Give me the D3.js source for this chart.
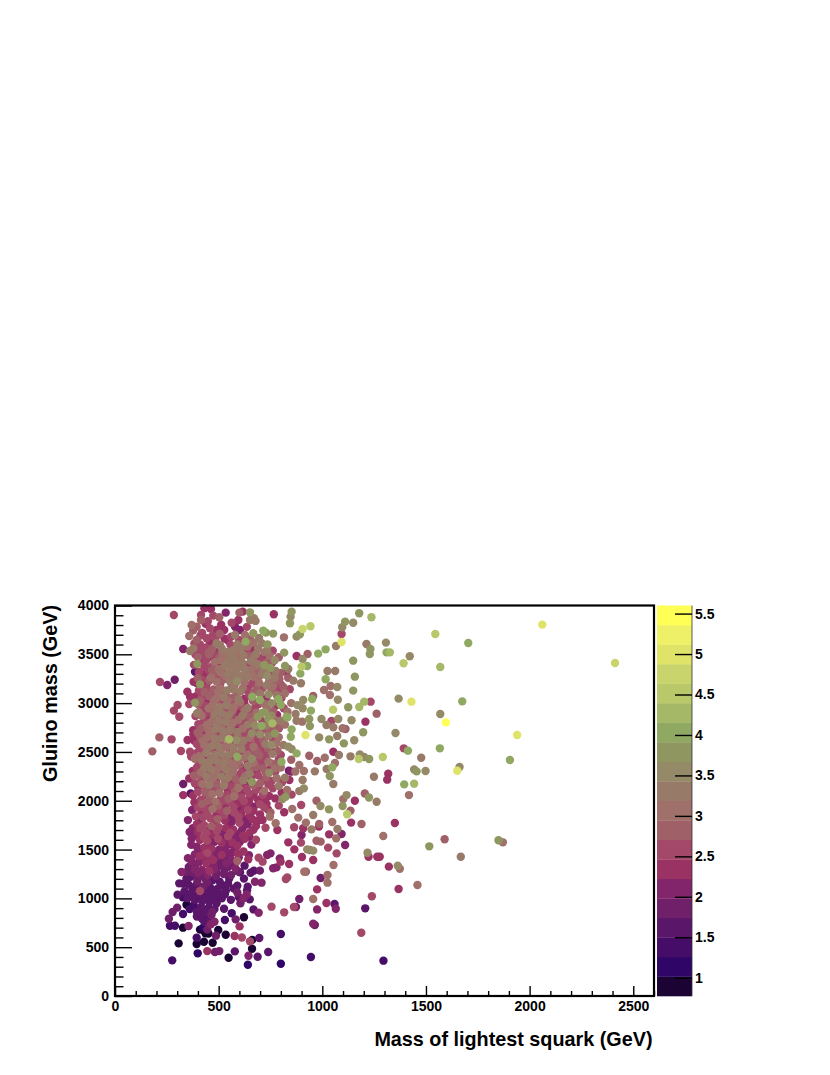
<!DOCTYPE html>
<html>
<head>
<meta charset="utf-8">
<script src="https://cdn.jsdelivr.net/npm/d3@7"></script>
<style>
  body { margin: 0; background: #fff; }
  text { font-family: "Liberation Sans", sans-serif; font-weight: bold; fill: #000; }
</style>
</head>
<body>
<svg></svg>
<script>
// [squark mass, gluino mass, colour value]
var farRight = [[2061,3804,4.9],[2412,3411,4.8],[1545,3708,4.5],[1704,3616,4.0],[1307,3620,3.6],[1310,3520,4.0],[1326,3520,4.2],[1422,3480,3.6],[1392,3408,4.4],[1569,3370,4.2],[1368,3046,3.5],[1430,3015,4.9],[1675,3018,4.0],[1569,2888,3.6],[1596,2803,5.5],[1353,2694,3.6],[1940,2673,4.9],[1393,2537,2.5],[1413,2513,4.0],[1567,2537,4.0],[1292,2448,4.5],[1477,2441,3.2],[1905,2417,4.1],[1662,2345,3.5],[1651,2308,4.9],[1443,2321,3.5],[1455,2301,3.9],[1498,2304,3.6],[1318,2277,2.3],[1313,2216,2.4],[1395,2168,4.1],[1443,2175,4.3],[1418,2058,3.1],[1350,1772,2.4],[1294,1639,3.0],[1590,1605,2.9],[1516,1533,3.8],[1850,1595,3.8],[1871,1574,3.1],[1668,1427,3.4],[1364,1335,3.6],[1374,1304,3.1],[1321,1325,2.3],[1459,1137,3.0],[1368,1096,2.4],[1295,362,1.4],[1277,1427,2.4]];

var lowRegion = [[276,365,1.4],[307,539,0.9],[265,720,1.4],[289,720,1.4],[260,792,1.9],[278,860,1.9],[300,905,1.9],[328,840,1.3],[328,700,0.9],[355,717,2.2],[302,1038,1.5],[310,1154,1.6],[321,1270,2.1],[399,437,1.2],[394,532,0.9],[394,597,1.4],[429,556,0.9],[471,546,0.9],[498,676,0.9],[534,628,0.9],[445,460,2.3],[482,450,1.9],[503,460,1.8],[548,392,0.9],[578,457,1.6],[577,614,2.4],[612,600,2.5],[651,560,2.6],[662,575,1.0],[661,484,0.9],[696,594,1.6],[644,413,2.0],[641,320,1.2],[688,402,1.6],[739,450,1.6],[800,635,1.4],[800,331,1.2],[945,399,1.4],[487,618,1.9],[622,806,0.9],[601,713,2.3],[530,778,1.3],[563,847,1.3],[526,894,1.5],[582,785,1.9],[668,887,1.6],[693,853,2.2],[755,915,2.5],[816,857,2.7],[863,911,2.6],[873,911,1.8],[889,993,1.8],[956,993,3.0],[975,887,2.0],[956,741,2.0],[964,727,1.9],[1020,952,2.4],[1059,942,1.7],[1065,894,2.0],[1207,898,1.7],[1239,1021,2.5],[1188,648,2.5]];

var midLower = [[992,1209,1.8],[1025,1239,3.1],[1025,1161,3.0],[975,1092,2.4],[1054,1342,3.0],[913,1273,3.0],[921,1273,2.8],[824,1198,2.6],[831,1215,2.6],[707,1161,2.0],[675,1171,2.2],[699,1284,1.8],[670,1284,1.7],[654,1263,1.7],[625,1335,1.7],[603,1267,1.7],[643,1400,2.3],[590,1383,2.9],[712,1376,2.5],[693,1417,2.5],[734,1444,2.2],[750,1461,2.2],[795,1410,2.1],[840,1352,2.4],[763,1308,2.2],[779,1318,2.2],[799,1376,2.4],[836,1574,2.4],[865,1502,2.3],[897,1571,2.5],[902,1424,2.4],[927,1502,3.6],[956,1489,3.6],[940,1496,3.3],[956,1393,2.4],[1028,1520,2.7],[1069,1461,2.6],[1067,1615,3.0],[1073,1711,3.4],[1110,1547,2.2],[1093,1660,2.2],[1139,1776,2.3],[1189,1762,2.9],[1218,1468,3.6],[1223,1427,2.4],[1265,1427,2.4],[1033,1656,2.4],[992,1581,2.8],[972,1591,2.9],[921,1776,3.1],[948,1707,3.4],[985,1762,2.8],[956,1854,3.4],[991,1946,3.5],[1032,1912,3.7],[1098,1946,3.8],[1120,1861,4.4],[1136,1899,2.9],[1048,1782,3.1],[984,1735,2.4],[900,1649,2.2],[908,1718,2.4],[864,1728,2.5],[884,1827,3.0],[855,1916,3.0],[816,1882,2.3],[783,1701,2.4],[726,1724,2.7],[712,1803,2.4],[747,1837,3.0],[775,1769,3.0],[898,1957,2.6]];

var midUpper = [[852,3937,3.9],[766,3910,2.4],[844,3818,3.9],[905,3760,4.8],[943,3787,4.6],[1178,3920,3.9],[1237,3879,4.3],[1110,3835,3.8],[1096,3777,3.6],[1149,3824,3.6],[1093,3708,2.6],[1093,3626,5.0],[1066,3585,3.4],[1213,3606,3.3],[1232,3555,3.7],[1229,3503,3.7],[1016,3551,4.0],[980,3507,4.0],[929,3503,2.8],[905,3452,3.5],[927,3380,4.1],[900,3374,4.6],[1149,3435,3.9],[715,3742,4.0],[728,3722,3.8],[763,3712,3.9],[815,3674,3.0],[876,3681,3.5],[892,3705,3.9],[847,3886,3.6],[736,3602,3.9],[876,3483,2.4],[816,3517,3.7],[820,3380,3.9],[836,3350,3.3],[894,3302,4.0],[1025,3329,3.2],[1062,3329,3.2],[1016,3244,4.1],[1157,3271,3.9],[897,3203,3.3],[1040,3175,3.0],[1072,3165,3.6],[1149,3128,3.7],[1008,3134,3.0],[1037,3083,3.0],[956,3073,2.8],[908,3032,3.6],[951,3042,4.1],[1075,3035,3.6],[1233,3015,2.5],[1262,2892,2.9],[1202,3015,4.2],[1178,2960,4.2],[1125,2957,3.8],[1052,2933,4.4],[945,2923,4.0],[905,2947,3.6],[871,2889,3.4],[832,2912,3.0],[832,2854,4.0],[937,2837,3.9],[876,2820,3.3],[903,2810,3.0],[996,2837,3.6],[1044,2817,2.6],[1077,2837,3.6],[1141,2824,3.6],[1208,2810,2.4],[1020,2776,3.2],[1053,2752,3.2],[1098,2742,3.0],[1112,2735,2.8],[1197,2701,3.8],[940,2766,3.9],[852,2731,4.1],[771,2690,3.9],[919,2673,4.9],[848,2656,4.1],[1072,2663,3.2],[985,2649,3.6],[1033,2629,3.9],[1104,2588,3.7],[1154,2619,3.5],[1249,2246,3.2],[1053,2502,2.4],[1080,2468,3.2],[1136,2455,3.2],[1176,2427,4.4],[1181,2475,3.5],[1202,2448,3.5],[1226,2427,3.8],[937,2461,2.8],[975,2407,2.9],[1012,2441,3.0],[1061,2386,3.1],[1048,2342,4.0],[1021,2325,3.4],[1036,2253,3.8],[964,2301,3.4],[911,2304,3.1],[889,2366,3.0],[905,2212,3.4],[911,2127,3.6],[889,2099,3.3],[1053,2171,3.2],[972,2000,2.8],[1117,2058,3.6],[1101,2017,3.0],[1157,2000,2.3],[1205,2075,2.8],[1225,2034,3.7],[1262,1990,3.3],[823,2041,3.8],[808,2017,3.6],[773,2024,2.4],[723,2004,2.4],[803,2400,4.1],[839,2308,1.9],[849,2298,2.1],[841,2212,2.4],[820,2236,3.2],[744,2287,3.6],[772,2332,3.0],[755,2383,2.9],[755,2571,3.6],[812,2571,3.2],[791,2742,2.6],[836,2554,3.6],[852,2530,3.5],[876,2485,4.0],[789,3039,4.1],[800,2981,4.1],[662,3066,4.0],[699,3032,4.0],[759,2793,4.2],[707,2766,4.1],[723,2906,3.8],[755,2871,3.6],[828,2861,4.0]];

var farLeft = [[284,3903,2.7],[180,2506,2.9],[214,2649,2.9],[273,2629,2.7],[217,3216,2.6],[252,3186,2.1],[288,3240,1.9],[302,2981,2.7],[284,2923,2.5],[310,2861,2.7],[318,2509,2.5],[362,2502,2.6],[350,2622,2.3],[329,2171,1.9],[329,2058,2.3],[365,2075,1.6],[386,3322,1.7],[329,3555,2.1],[362,3534,3.2],[378,3561,3.4],[358,3688,3.0],[370,3800,3.0],[349,3117,2.4],[362,3066,2.3],[386,3005,3.7],[358,2991,2.5],[395,2895,3.2],[410,3192,3.9],[397,3203,1.8],[397,3401,3.9],[378,2680,2.4]];

var coreTop = [[431,3971,2.4],[463,3965,2.4],[534,3927,2.0],[600,3927,2.8],[616,3937,2.4],[651,3930,3.7],[415,3903,2.7],[474,3896,2.7],[503,3879,2.8],[415,3852,2.9],[651,3852,3.4],[678,3842,3.4],[670,3869,3.4],[595,3852,2.3],[394,3783,2.8],[458,3766,2.5],[490,3749,2.4],[527,3749,2.3],[579,3783,2.0],[603,3749,2.2],[579,3698,3.2],[627,3698,3.0],[667,3715,3.7],[442,3664,2.7],[394,3647,2.9],[490,3613,3.2],[506,3596,3.3],[630,3630,4.0],[670,3544,2.4],[707,3613,3.4],[571,3544,3.2],[547,3527,3.2],[420,3720,2.6],[470,3690,2.5],[505,3710,2.9],[545,3640,2.4],[560,3680,2.6],[410,3600,2.7],[440,3570,2.5],[470,3560,2.8],[515,3560,3.3],[590,3600,3.2],[610,3570,3.4],[640,3580,3.1],[690,3560,3.2],[425,3510,2.7],[455,3500,2.9],[490,3490,2.6],[530,3480,3.1],[565,3470,3.2],[595,3500,3.1],[620,3490,3.3],[650,3480,2.8],[680,3500,3.3],[720,3520,3.1],[745,3490,3.0],[400,3470,2.8],[440,3440,2.6],[480,3420,3.1],[510,3440,3.0],[545,3430,3.3],[580,3430,3.4],[615,3410,3.2],[655,3430,3.3],[700,3440,2.7],[770,3440,3.5],[790,3470,2.9],[720,3390,3.7],[750,3360,3.9],[430,3380,2.6],[465,3370,2.7],[500,3350,3.0],[530,3380,3.2],[560,3360,3.2],[590,3350,3.3],[625,3350,3.4],[655,3340,3.1],[690,3320,2.8],[715,3350,3.2],[775,3330,3.4],[800,3310,2.9],[405,3320,2.7],[440,3310,2.4],[475,3300,2.9],[510,3310,3.1],[545,3300,3.3],[575,3290,3.2],[610,3280,3.4],[640,3270,3.2],[670,3270,3.0],[735,3280,3.6],[770,3260,3.3],[835,3260,2.9],[860,3230,3.3],[420,3240,2.5],[455,3230,2.8],[490,3220,3.0],[520,3240,2.9],[555,3220,3.3],[590,3225,3.5],[625,3210,3.1],[660,3200,2.6],[695,3210,3.0],[730,3180,3.4],[760,3170,3.0],[800,3190,2.5]];

var coreMid = [[405,3130,2.6],[440,3150,2.5],[475,3140,2.9],[510,3150,3.1],[540,3130,3.3],[570,3140,3.2],[605,3120,3.4],[640,3125,2.5],[670,3110,2.9],[700,3100,3.2],[740,3090,3.6],[780,3080,3.2],[820,3100,3.0],[420,3060,2.7],[455,3070,2.9],[490,3050,3.1],[525,3060,3.3],[560,3050,2.9],[595,3040,3.4],[625,3045,2.3],[755,3000,3.6],[850,3000,3.1],[880,2980,3.5],[400,2990,2.8],[435,2970,2.6],[470,2980,3.0],[505,2960,3.2],[540,2975,3.4],[575,2960,3.0],[610,2960,2.5],[640,2950,3.3],[675,2950,2.6],[710,2900,3.8],[405,2910,3.0],[445,2900,2.7],[480,2890,3.2],[515,2895,3.4],[550,2880,3.2],[585,2890,2.4],[615,2870,3.3],[650,2860,2.8],[690,2860,3.9],[740,2840,3.9],[770,2830,3.1],[800,2820,3.3],[430,2820,2.7],[465,2810,3.0],[500,2820,3.2],[535,2805,3.3],[570,2800,3.0],[605,2790,2.6],[640,2780,3.3],[675,2770,3.6],[730,2770,3.3],[820,2780,3.0],[415,2740,2.9],[450,2730,3.0],[485,2735,3.2],[520,2720,3.3],[555,2720,3.4],[590,2705,3.2],[625,2695,2.7],[660,2690,3.5],[700,2680,3.6],[740,2660,3.3],[790,2650,3.0],[410,2660,2.9],[445,2650,3.1],[480,2640,3.3],[515,2640,3.4],[550,2630,4.2],[585,2620,3.6],[620,2615,3.4],[650,2600,2.6],[690,2590,2.5],[725,2580,3.4],[780,2590,3.0],[395,2580,2.6],[430,2570,3.1],[465,2560,3.3],[500,2555,3.3],[535,2550,3.1],[570,2540,3.4],[610,2530,3.4],[640,2520,2.7],[680,2510,2.9],[720,2495,2.7],[760,2480,3.3],[800,2470,2.7],[400,2500,2.6],[440,2490,3.2],[480,2470,3.3],[515,2480,3.3],[550,2470,3.2],[590,2450,4.0],[625,2445,3.1],[660,2430,3.6],[700,2420,2.7],[740,2400,3.1],[850,2420,2.9],[385,2430,3.0],[420,2410,3.2],[455,2400,3.4],[490,2410,3.3],[525,2395,3.3],[560,2385,3.0],[600,2370,2.8],[640,2360,3.3],[680,2345,2.9],[715,2330,2.8],[800,2340,3.0],[870,2300,3.0],[395,2340,2.7],[430,2330,3.2],[465,2320,3.3],[500,2335,3.1],[535,2320,3.3],[570,2300,3.1],[610,2290,2.7],[650,2275,3.3],[690,2260,2.6],[730,2240,2.9],[780,2230,3.0],[400,2260,2.9],[440,2250,3.3],[475,2240,3.0],[510,2250,3.2],[545,2235,3.4],[580,2225,2.9],[620,2210,3.4],[660,2195,3.7],[700,2180,2.8],[740,2165,2.6],[790,2150,3.2],[385,2180,2.6],[420,2170,3.0],[455,2160,3.2],[490,2170,2.9],[525,2155,3.3],[560,2145,2.6],[595,2130,3.0],[635,2120,2.7],[680,2110,2.5],[720,2100,3.0],[830,2110,3.0]];

var coreLow = [[400,2090,2.7],[435,2085,2.9],[470,2070,3.0],[505,2075,3.0],[540,2060,2.6],[575,2045,3.1],[610,2035,2.6],[650,2020,2.4],[690,2010,2.3],[415,2010,2.6],[450,2000,2.8],[485,1990,3.0],[520,2000,2.5],[555,1985,2.7],[590,1970,2.3],[625,1950,2.4],[670,1940,2.2],[720,1930,2.5],[790,1950,2.5],[400,1930,2.5],[435,1920,2.7],[470,1915,3.0],[505,1905,2.6],[540,1895,2.8],[575,1880,2.6],[610,1870,2.3],[650,1850,2.3],[700,1860,2.4],[750,1880,2.8],[390,1840,2.5],[425,1830,2.6],[460,1820,2.7],[495,1810,2.8],[530,1800,2.4],[565,1790,2.2],[600,1775,2.5],[640,1760,2.2],[680,1740,2.3],[395,1760,2.3],[430,1750,2.6],[465,1740,2.8],[500,1730,2.5],[535,1720,2.3],[570,1705,2.4],[610,1690,2.2],[650,1675,2.3],[360,1680,2.0],[400,1680,2.3],[440,1670,2.5],[475,1655,2.4],[510,1650,2.2],[545,1635,2.6],[580,1620,2.2],[625,1610,2.3],[680,1600,2.5],[370,1610,2.1],[410,1600,2.3],[445,1590,2.5],[480,1580,2.2],[515,1570,2.4],[550,1555,2.1],[590,1540,2.3],[395,1530,2.2],[430,1520,2.4],[465,1510,2.3],[500,1495,2.2],[535,1485,2.1],[570,1475,2.2],[620,1480,2.4],[385,1450,2.1],[420,1440,2.4],[455,1430,2.4],[490,1420,2.2],[525,1405,1.9],[560,1395,2.0],[370,1380,2.0],[405,1370,2.2],[440,1360,2.3],[475,1345,2.1],[510,1335,1.9],[545,1320,1.8],[580,1310,2.0],[345,1270,1.9],[385,1300,2.0],[420,1290,2.1],[455,1280,2.3],[490,1265,1.9],[525,1250,1.8],[560,1240,1.8],[330,1150,1.6],[365,1220,1.7],[400,1210,1.9],[435,1200,1.9],[470,1185,1.7],[505,1170,1.7],[545,1150,1.6],[590,1130,1.6],[640,1120,1.6],[355,1140,1.6],[390,1130,1.7],[425,1120,1.9],[460,1110,1.7],[495,1100,1.6],[535,1080,1.5],[590,1060,1.8],[635,1040,2.1],[410,1075,2.7],[335,1070,1.5],[370,1060,1.6],[405,1040,1.7],[440,1035,1.6],[475,1020,1.5],[515,1000,1.7],[620,1000,2.2],[650,990,1.7],[350,1000,1.5],[385,985,1.6],[420,970,1.6],[455,960,1.5],[490,950,1.5],[345,935,1.0],[380,930,1.4],[415,910,1.5],[450,900,1.5],[480,890,1.6],[605,950,1.9],[395,860,1.5],[430,850,1.6],[465,830,1.9],[420,790,1.5],[450,770,1.7],[480,760,2.0],[425,700,1.2],[445,680,1.8],[410,680,1.0]];

// second reading of the crowded column, mostly darker dots showing between the others
var denseUpper = [[448,3838,2.6],[377,3745,2.9],[437,3812,2.4],[512,3803,2.3],[563,3824,2.5],[636,3781,2.6],[486,3672,2.5],[412,3693,2.7],[528,3661,2.4],[598,3648,2.6],[652,3655,2.8],[695,3668,3.3],[383,3612,2.7],[458,3618,2.3],[557,3597,2.5],[668,3621,3.0],[733,3543,3.3],[404,3547,2.5],[497,3526,2.4],[582,3521,2.9],[638,3527,2.5],[761,3536,2.6],[388,3498,2.6],[473,3467,2.3],[518,3509,3.0],[607,3451,3.0],[667,3466,3.1],[713,3467,2.4],[415,3438,2.4],[497,3392,2.4],[563,3401,3.1],[636,3388,2.5],[688,3398,3.3],[757,3410,2.7],[381,3392,2.7],[448,3347,2.5],[518,3338,2.6],[573,3325,2.9],[643,3312,2.8],[709,3293,3.3],[752,3312,2.5],[827,3322,2.3],[423,3277,2.3],[492,3267,2.5],[557,3261,2.8],[606,3243,2.4],[677,3236,2.4],[744,3232,3.0],[793,3244,2.8],[379,3218,2.4],[441,3192,2.3],[507,3187,2.6],[577,3181,3.1],[642,3168,2.4],[712,3154,2.7],[787,3133,2.5],[417,3161,2.4],[472,3102,2.5],[533,3094,2.7],[586,3088,2.9],[651,3079,2.5],[729,3047,2.4],[803,3052,2.6],[391,3072,2.4],[441,3026,2.3],[507,3018,2.6],[562,3006,2.6],[624,2997,2.3],[691,2989,2.7],[776,2975,2.4],[418,2936,2.4],[477,2933,2.4],[538,2927,2.6],[596,2918,2.4],[657,2907,2.5],[733,2953,3.0],[814,2947,2.5]];

var denseMiddle = [[388,2867,2.5],[449,2857,2.4],[512,2855,2.6],[571,2848,2.5],[632,2828,2.5],[711,2815,2.6],[782,2878,2.4],[402,2783,2.5],[457,2772,2.5],[524,2762,2.5],[588,2752,2.4],[652,2739,2.6],[708,2731,2.5],[766,2738,2.8],[377,2723,2.3],[433,2697,2.4],[497,2688,2.7],[559,2682,2.6],[611,2661,2.4],[682,2644,2.7],[761,2631,2.6],[382,2618,2.4],[448,2611,2.6],[506,2602,2.5],[579,2581,2.5],[636,2566,2.5],[703,2552,2.6],[749,2528,2.4],[412,2532,2.6],[474,2521,2.7],[553,2511,2.5],[603,2487,2.4],[668,2473,2.6],[729,2451,2.5],[790,2424,2.6],[367,2452,2.5],[428,2451,2.4],[497,2441,2.6],[566,2429,2.6],[639,2404,2.4],[712,2381,2.6],[773,2298,2.6],[405,2376,2.5],[469,2367,2.6],[541,2353,2.5],[617,2333,2.4],[682,2306,2.4],[748,2323,2.3],[375,2304,2.3],[447,2292,2.6],[519,2285,2.4],[589,2262,2.5],[656,2242,2.4],[715,2213,2.5],[418,2213,2.5],[487,2207,2.4],[561,2190,2.4],[628,2167,2.4],[691,2146,2.4],[761,2127,2.5],[358,2228,2.4],[401,2138,2.4],[472,2121,2.6],[544,2105,2.3],[610,2086,2.4],[668,2067,2.3],[743,2049,2.3],[804,2082,2.4],[852,2063,2.6],[377,2055,2.3]];

var denseLower = [[438,2037,2.3],[512,2031,2.4],[583,2002,2.3],[645,1985,2.3],[731,1968,2.4],[383,1985,2.3],[461,1963,2.4],[533,1945,2.3],[603,1917,2.2],[668,1896,2.4],[738,1911,2.3],[372,1905,2.2],[418,1875,2.4],[489,1862,2.3],[561,1843,2.2],[629,1812,2.1],[689,1796,2.3],[352,1802,2.2],[407,1795,2.2],[481,1773,2.3],[551,1754,2.1],[617,1728,2.2],[668,1702,2.3],[375,1718,2.1],[452,1708,2.2],[525,1682,2.2],[591,1655,2.1],[648,1632,2.2],[388,1645,2.1],[462,1628,2.2],[537,1599,2.0],[602,1578,2.1],[658,1552,2.1],[368,1548,2.1],[447,1552,2.2],[519,1528,2.0],[577,1505,2.0],[646,1442,2.0],[402,1482,2.1],[478,1465,2.1],[553,1441,2.0],[597,1418,2.0],[352,1412,2.0],[437,1401,2.1],[507,1378,1.9],[572,1352,1.9],[387,1342,1.9],[461,1320,1.9],[528,1294,1.8],[593,1278,1.8],[356,1321,1.9],[418,1255,1.9],[487,1228,1.8],[551,1203,1.7],[622,1202,1.7],[375,1262,1.8],[444,1163,1.8],[515,1135,1.6],[573,1101,1.6],[637,1082,1.5],[345,1205,1.7],[397,1170,1.8],[468,1078,1.6],[530,1042,1.5],[597,1015,1.5],[375,1100,1.6],[431,1082,1.7],[501,1052,1.6],[360,1030,1.5],[428,1002,1.5],[491,982,1.5],[559,985,1.7],[395,1015,1.5],[455,1005,1.6],[327,1012,1.4],[360,890,1.4],[410,870,1.4],[445,820,1.5],[470,862,1.9],[395,815,1.5],[431,760,1.6],[462,735,2.0],[436,642,1.0],[451,640,0.9]];

// third reading, the mauve dots that close the gaps in the column
var gapFill = [[452,3520,2.9],[503,3463,2.8],[574,3407,3.0],[468,3338,2.9],[601,3394,3.0],[676,3378,3.0],[737,3432,2.8],[536,3276,3.0],[399,3258,2.9],[462,3264,3.0],[627,3260,3.0],[692,3264,2.9],[712,3320,3.0],[775,3215,2.9],[432,3112,2.9],[498,3115,3.0],[563,3166,3.0],[617,3156,3.0],[683,3143,2.9],[755,3126,2.9],[812,3166,2.8],[843,3143,2.6],[411,3027,2.9],[479,3024,3.0],[543,3024,3.0],[604,3007,3.0],[665,3024,2.9],[720,2993,3.0],[785,3012,2.9],[452,2946,3.0],[491,2925,3.0],[567,2921,3.0],[625,2925,3.0],[682,2902,3.0],[763,2918,2.8],[418,2871,3.0],[478,2851,3.1],[540,2842,3.0],[597,2829,3.0],[665,2813,3.0],[749,2792,2.9],[793,2758,2.9],[444,2779,3.0],[499,2770,3.1],[560,2759,3.1],[618,2740,3.0],[681,2727,2.9],[739,2704,2.9],[398,2698,2.9],[462,2688,3.1],[527,2678,3.1],[592,2657,3.1],[651,2646,3.0],[716,2620,2.9],[768,2685,2.8],[425,2610,3.0],[482,2597,3.1],[546,2588,3.1],[607,2572,3.1],[668,2553,3.0],[739,2537,2.9],[447,2528,3.1],[511,2517,3.1],[575,2493,3.1],[641,2472,3.0],[696,2465,2.9],[784,2510,2.8],[406,2456,3.0],[465,2438,3.1],[533,2436,3.1],[596,2412,3.0],[667,2392,3.0],[768,2372,2.9],[438,2371,3.1],[505,2376,3.1],[577,2345,3.1],[651,2318,2.9],[726,2294,2.8],[415,2293,3.0],[482,2285,3.1],[552,2274,3.0],[628,2250,3.0],[755,2203,2.7],[381,2258,2.9],[458,2204,3.0],[529,2198,3.0],[596,2176,2.9],[668,2158,2.8],[806,2189,2.7],[436,2126,2.9],[505,2122,2.9],[578,2092,2.9],[646,2076,2.7],[713,2061,2.6],[458,2041,2.8],[547,2019,2.8],[622,1998,2.5],[699,1964,2.5],[419,1968,2.8],[497,1950,2.8],[572,1935,2.6],[642,1908,2.5],[445,1873,2.7],[526,1853,2.7],[596,1832,2.5],[663,1810,2.4],[411,1718,2.6],[492,1693,2.6],[556,1671,2.5],[618,1641,2.4],[428,1625,2.5],[497,1610,2.5],[566,1572,2.4],[446,1466,2.5],[515,1445,2.4],[592,1462,2.4],[407,1433,2.4],[473,1392,2.4],[537,1361,2.2],[402,1262,2.2],[446,1240,2.1],[477,1295,2.2]];

var colorTicks = [1, 1.5, 2, 2.5, 3, 3.5, 4, 4.5, 5, 5.5];
var xTicks = [0, 500, 1000, 1500, 2000, 2500];
var yTicks = [0, 500, 1000, 1500, 2000, 2500, 3000, 3500, 4000];
var bandColors = ["#1b0433","#2f0568","#450d68","#5a1668","#6f2068","#82256a","#9a3264","#a4486a","#a06068","#a0706a",
                  "#987a68","#958a67","#8f9660","#8fa963","#a4b868","#b9c868","#c9d56c","#dfe368","#eef068","#ffff55"];

var screen = { width: 830, height: 1075 };
var plot = { left: 115, right: 654, top: 605.5, bottom: 996 };
var bar = { left: 657, right: 692 };

var svg = d3.select("svg")
            .attr("width", screen.width)
            .attr("height", screen.height)
            .style("display", "block");

var xScale = d3.scaleLinear().domain([0, 2600]).range([plot.left, plot.right]);
var yScale = d3.scaleLinear().domain([0, 4000]).range([plot.bottom, plot.top]);
var zScale = d3.scaleLinear().domain([0.774, 5.6]).range([plot.bottom, plot.top]);
var colors = d3.scaleQuantize().domain([0.774, 5.6]).range(bandColors);

var points = denseUpper.concat(denseMiddle, denseLower, gapFill, farRight, lowRegion, midLower, midUpper, farLeft, coreTop, coreMid, coreLow);
points.sort(function(a, b) { return a[2] - b[2]; });

svg.append("g")
   .selectAll("circle")
   .data(points)
   .enter()
   .append("circle")
   .attr("cx", function(d) { return xScale(d[0]); })
   .attr("cy", function(d) { return yScale(d[1]); })
   .attr("r", 4.2)
   .attr("fill", function(d) { return colors(d[2]); });

// minor ticks every 100, majors every 500
var minorX = d3.range(0, 2601, 100).filter(function(d) { return d % 500 != 0; });
var minorY = d3.range(0, 4001, 100).filter(function(d) { return d % 500 != 0; });

var styleAxis = function(g) {
  g.select(".domain").remove();
  g.selectAll("line").attr("stroke", "#000").attr("stroke-width", 1.4);
  g.selectAll("text").style("font-size", "14px");
};

svg.append("g")
   .attr("transform", "translate(0," + plot.bottom + ")")
   .call(d3.axisBottom(xScale).tickValues(minorX).tickSizeInner(-5).tickSizeOuter(0).tickFormat(""))
   .call(styleAxis);
svg.append("g")
   .attr("transform", "translate(0," + plot.bottom + ")")
   .call(d3.axisBottom(xScale).tickValues(xTicks).tickSizeInner(-10).tickSizeOuter(0).tickPadding(5).tickFormat(d3.format("d")))
   .call(styleAxis);
svg.append("g")
   .attr("transform", "translate(" + plot.left + ",0)")
   .call(d3.axisLeft(yScale).tickValues(minorY).tickSizeInner(-8.5).tickSizeOuter(0).tickFormat(""))
   .call(styleAxis);
svg.append("g")
   .attr("transform", "translate(" + plot.left + ",0)")
   .call(d3.axisLeft(yScale).tickValues(yTicks).tickSizeInner(-17).tickSizeOuter(0).tickPadding(6).tickFormat(d3.format("d")))
   .call(styleAxis);

svg.append("rect")
   .attr("x", plot.left)
   .attr("y", plot.top)
   .attr("width", plot.right - plot.left)
   .attr("height", plot.bottom - plot.top)
   .attr("fill", "none")
   .attr("stroke", "#000")
   .attr("stroke-width", 2.2);

// colour bar
var bandEdges = d3.range(bandColors.length + 1).map(function(i) {
  return 0.774 + i * (5.6 - 0.774) / bandColors.length;
});

svg.append("g")
   .selectAll("rect")
   .data(bandColors)
   .enter()
   .append("rect")
   .attr("x", bar.left)
   .attr("width", bar.right - bar.left)
   .attr("y", function(d, i) { return zScale(bandEdges[i + 1]); })
   .attr("height", function(d, i) { return zScale(bandEdges[i]) - zScale(bandEdges[i + 1]) + 0.3; })
   .attr("fill", function(d) { return d; });

svg.append("line")
   .attr("x1", bar.right).attr("x2", bar.right)
   .attr("y1", plot.top).attr("y2", plot.bottom)
   .attr("stroke", "#333")
   .attr("stroke-width", 0.8);

svg.append("g")
   .attr("transform", "translate(" + bar.right + ",0)")
   .call(d3.axisRight(zScale).tickValues(colorTicks).tickSizeInner(-17).tickSizeOuter(0).tickPadding(3).tickFormat(d3.format("")))
   .call(styleAxis);

// axis titles
svg.append("text")
   .attr("x", 652.5)
   .attr("y", 1046)
   .attr("text-anchor", "end")
   .style("font-size", "19.8px")
   .text("Mass of lightest squark (GeV)");

svg.append("text")
   .attr("transform", "translate(57,605) rotate(-90)")
   .attr("text-anchor", "end")
   .style("font-size", "19.8px")
   .text("Gluino mass (GeV)");
</script>
</body>
</html>
